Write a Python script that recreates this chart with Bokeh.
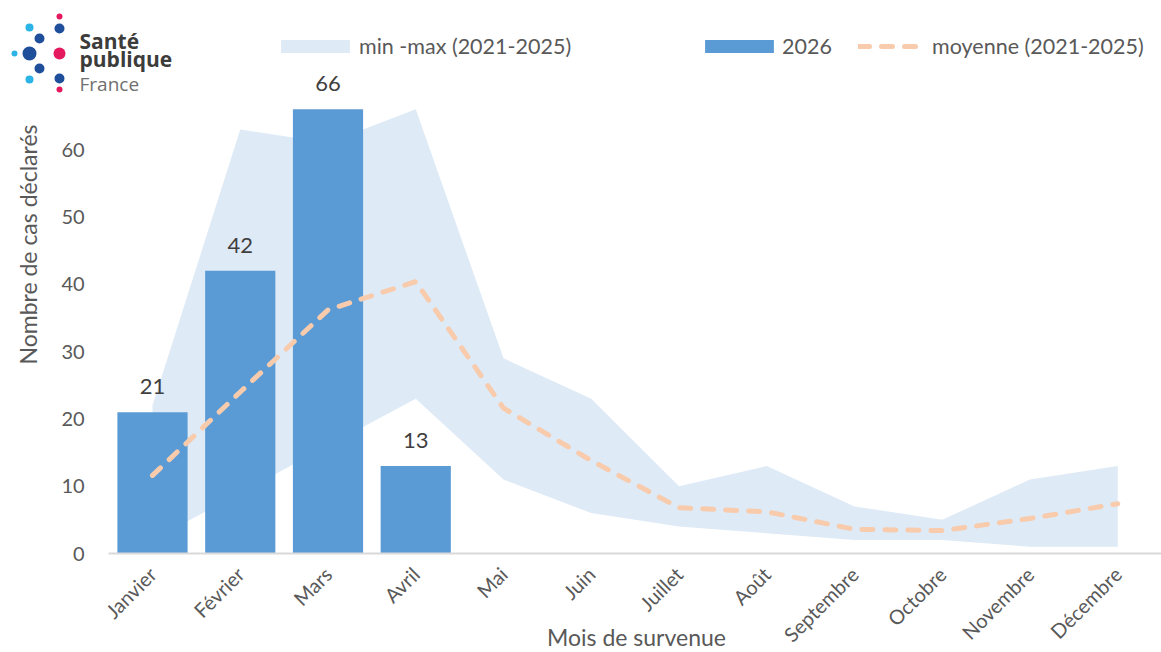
import math
from bokeh.plotting import figure
from bokeh.models import (ColumnDataSource, Range1d, Legend, LegendItem,
                          LabelSet, Label, BoxAnnotation, FixedTicker)
from bokeh.core.properties import value
from bokeh.embed import file_html
from bokeh.resources import INLINE

# ---------------- data ----------------
months = ["Janvier", "Février", "Mars", "Avril", "Mai", "Juin", "Juillet",
          "Août", "Septembre", "Octobre", "Novembre", "Décembre"]
months_2026 = ["Janvier", "Février", "Mars", "Avril"]
cases_2026 = [21, 42, 66, 13]
band_min = [2, 9, 16, 23, 11, 6, 4, 3, 2, 2, 1, 1]
band_max = [22, 63, 61, 66, 29, 23, 10, 13, 7, 5, 11, 13]
mean_2021_2025 = [11.6, 24.0, 36.2, 40.4, 21.6, 13.8, 6.8, 6.2, 3.6, 3.4, 5.2, 7.4]
y_ticks = [0, 10, 20, 30, 40, 50, 60]

# ---------------- style / geometry ----------------
FONT = "Lato"
AXIS_TXT = "#595959"
BAND_COL = "#DEEAF6"
BAR_COL = "#5B9BD5"
MEAN_COL = "#F8CBAD"

W, H = 1161, 652
X0_PX, X_STEP = 152.0, 87.75      # pixel of first category centre, category width
Y0_PX, Y_UNIT = 553.0, 6.73       # pixel of y=0 (from top), px per unit

x_idx = list(range(len(months)))
x_idx_2026 = [months.index(m) for m in months_2026]

p = figure(x_range=Range1d(-X0_PX / X_STEP, (W - X0_PX) / X_STEP),
           y_range=Range1d(-(H - Y0_PX) / Y_UNIT, Y0_PX / Y_UNIT),
           width=W, height=H,
           output_backend="svg", toolbar_location=None,
           min_border=0, min_border_left=0, min_border_right=0,
           min_border_top=0, min_border_bottom=0)
p.outline_line_color = None
p.xgrid.visible = False
p.ygrid.visible = False
p.background_fill_color = "white"
p.border_fill_color = "white"

band = p.varea(x=x_idx, y1=band_min, y2=band_max, fill_color=BAND_COL, fill_alpha=1)

bar_src = ColumnDataSource(dict(x=x_idx_2026, top=cases_2026,
                                lab=[str(v) for v in cases_2026]))
bars = p.vbar(x="x", top="top", width=0.8, source=bar_src,
              fill_color=BAR_COL, line_color=None)

mean = p.line(x=x_idx, y=mean_2021_2025, line_color=MEAN_COL, line_width=5,
              line_dash="11 12", line_cap="round", line_join="round")

labels = LabelSet(x="x", y="top", text="lab", source=bar_src, y_offset=18,
                  text_align="center", text_baseline="bottom",
                  text_font=value(FONT), text_font_size="22px", text_color="#404040")
p.add_layout(labels)

# axes (library axes, pinned inside the frame)
p.yaxis.fixed_location = -0.5
p.yaxis.ticker = FixedTicker(ticks=y_ticks)
p.yaxis.axis_line_color = None
p.yaxis.major_tick_line_color = None
p.yaxis.major_tick_out = 0
p.yaxis.major_tick_in = 0
p.yaxis.minor_tick_line_color = None
p.yaxis.major_label_text_font = FONT
p.yaxis.major_label_text_font_size = "20px"
p.yaxis.major_label_text_color = AXIS_TXT
p.yaxis.major_label_standoff = 24

p.xaxis.fixed_location = 0
p.xaxis.bounds = (-0.5, len(months) - 0.5)
p.xaxis.ticker = FixedTicker(ticks=x_idx)
p.xaxis.major_label_overrides = {i: m for i, m in zip(x_idx, months)}
p.xaxis.axis_line_color = "#D9D9D9"
p.xaxis.axis_line_width = 2
p.xaxis.major_tick_line_color = None
p.xaxis.major_tick_out = 0
p.xaxis.major_tick_in = 0
p.xaxis.minor_tick_line_color = None
p.xaxis.major_label_orientation = math.pi / 4
p.xaxis.major_label_text_font = FONT
p.xaxis.major_label_text_font_size = "20px"
p.xaxis.major_label_text_color = AXIS_TXT
p.xaxis.major_label_standoff = 17

# axis titles
p.add_layout(Label(x=27, y=H - 244, x_units="screen", y_units="screen",
                   text="Nombre de cas déclarés", angle=math.pi / 2,
                   text_align="center", text_baseline="middle",
                   text_font=FONT, text_font_size="23px", text_color=AXIS_TXT))
p.add_layout(Label(x=636, y=H - 636, x_units="screen", y_units="screen",
                   text="Mois de survenue",
                   text_align="center", text_baseline="middle",
                   text_font=FONT, text_font_size="23px", text_color=AXIS_TXT))

# legends
common = dict(padding=0, margin=0, border_line_color=None, background_fill_alpha=0,
              label_height=20, label_text_font=FONT, label_text_font_size="21.5px",
              label_text_color=AXIS_TXT)
leg1 = Legend(items=[LegendItem(label="min -max (2021-2025)", renderers=[band])],
              location=(272, H - 58.5), glyph_width=86, glyph_height=16,
              label_standoff=1, **common)
leg2 = Legend(items=[LegendItem(label="2026", renderers=[bars])],
              location=(696, H - 58.5), glyph_width=86, glyph_height=16,
              label_standoff=0, **common)
leg3 = Legend(items=[LegendItem(label="moyenne (2021-2025)", renderers=[mean])],
              location=(858, H - 58.5), glyph_width=60, glyph_height=16,
              label_standoff=14, **common)
p.add_layout(leg1)
p.add_layout(leg2)
p.add_layout(leg3)

# logo "Santé publique France"
DARK = "#1F4E9B"
CYAN = "#2CB4E6"
PINK = "#E5195E"
dots = [(59, 16, 3, PINK), (29, 27, 4, CYAN), (59, 28, 5, DARK), (39, 38, 5, DARK),
        (14, 53, 3, CYAN), (29, 53, 7, DARK), (59, 53, 6, PINK), (39, 68, 5, DARK),
        (29, 79, 4, CYAN), (59, 78, 5, DARK), (59, 89, 3, PINK)]
for cx, cy, r, col in dots:
    p.add_layout(BoxAnnotation(left=cx - r, right=cx + r,
                               bottom=H - cy - r, top=H - cy + r,
                               left_units="screen", right_units="screen",
                               bottom_units="screen", top_units="screen",
                               border_radius=r, fill_color=col, fill_alpha=1,
                               line_color=None, level="overlay"))
for txt, ty, size, style, col in [("Santé", 40, "21px", "bold", "#3C3C3B"),
                                   ("publique", 58, "21px", "bold", "#3C3C3B"),
                                   ("France", 83, "19px", "normal", "#6F6F6F")]:
    p.add_layout(Label(x=79, y=H - ty, x_units="screen", y_units="screen",
                       text=txt, text_align="left", text_baseline="alphabetic",
                       text_font="Open Sans", text_font_size=size, text_font_style=style,
                       text_color=col))

open("out.html", "w").write(file_html(p, INLINE))
